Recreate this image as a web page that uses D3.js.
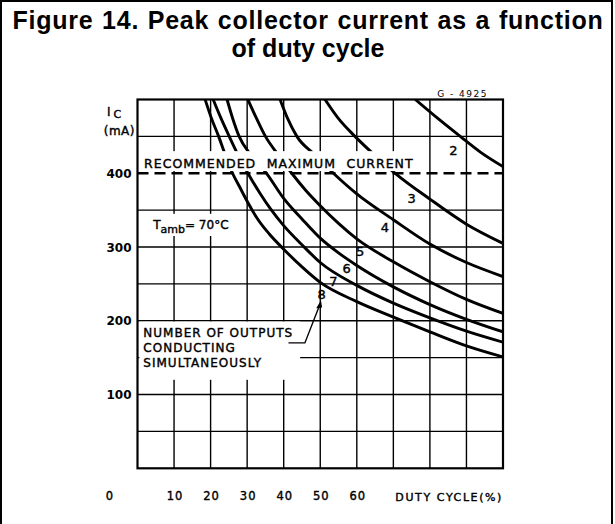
<!DOCTYPE html>
<html>
<head>
<meta charset="utf-8">
<script src="https://cdn.jsdelivr.net/npm/d3@7"></script>
<style>
  body { margin: 0; background: #fff; }
  svg text { fill: #000; }
  svg text.plain { stroke: #000; stroke-width: 0.4px; }
</style>
</head>
<body>
<svg id="chart" width="615" height="524"></svg>
<script>
// duty cycle (%) vs peak collector current (mA), one array per number of outputs
const curve2 = [[76, 500], [82, 475], [88.3, 450], [94, 428], [100, 409]];
const curve3 = [[51.3, 500], [55, 474], [59.5, 450], [65, 424], [70.5, 400], [80, 365], [90, 331], [100, 305]];
const curve4 = [[39, 500], [41, 475], [43.6, 450], [48.5, 425], [53.6, 400], [60, 372], [70, 337], [80, 304], [90, 279], [100, 260]];
const curve5 = [[30.2, 500], [32.5, 475], [35, 450], [38.5, 425], [42.2, 400], [46, 377], [50, 356], [55, 332], [60, 311], [70, 280], [80, 253], [90, 229], [100, 210]];
const curve6 = [[24.5, 500], [26, 475], [27.8, 450], [31, 425], [35.3, 400], [40, 366], [45, 338], [50, 312], [55, 292], [60, 275], [70, 246], [80, 222], [90, 202], [100, 185]];
const curve7 = [[20.7, 500], [22.8, 475], [25.1, 450], [27.5, 425], [30.2, 400], [33.5, 373], [36.5, 351], [40, 329], [45, 303], [50, 279], [60, 248], [70, 224], [80, 204], [90, 186], [100, 171]];
const curve8 = [[18.5, 500], [20.2, 475], [22.2, 450], [24, 425], [26, 400], [28, 381], [30, 362], [33, 337], [36, 318], [40, 297], [45, 273], [50, 252], [60, 226], [70, 205], [80, 185], [90, 166], [100, 151]];
const curves = [curve2, curve3, curve4, curve5, curve6, curve7, curve8];
const curveNames = ["2", "3", "4", "5", "6", "7", "8"];
// label positions (duty %, mA)
const curveLabelPos = [[86.4, 432], [75, 366], [67.7, 327], [60.9, 294], [57.2, 272], [53.6, 254], [50.4, 236]];

const xTicks = [10, 20, 30, 40, 50, 60];
const yTicks = [100, 200, 300, 400];
const maxCurrent = 400;

const svg = d3.select("#chart");

// outer frame (bottom edge is cut off in the original)
svg.append("path")
  .attr("d", "M1,530 V1 H612 V530")
  .attr("fill", "none")
  .attr("stroke", "#000")
  .attr("stroke-width", 2);

// title
const titleFont = "'Liberation Sans', Arial, sans-serif";
svg.append("text")
  .attr("x", 308).attr("y", 29)
  .attr("text-anchor", "middle")
  .style("font-family", titleFont).style("font-weight", "bold").style("font-size", "25px")
  .style("letter-spacing", "0.75px").style("word-spacing", "1px")
  .text("Figure 14. Peak collector current as a function");
svg.append("text")
  .attr("x", 308).attr("y", 57)
  .attr("text-anchor", "middle")
  .style("font-family", titleFont).style("font-weight", "bold").style("font-size", "25px")
  .text("of duty cycle");

const x = d3.scaleLinear().domain([0, 100]).range([137.5, 503]);
const y = d3.scaleLinear().domain([0, 500]).range([468.3, 99.5]);

const font = "'DejaVu Sans', sans-serif";

// grid
const grid = svg.append("g").attr("stroke", "#000").attr("stroke-width", 1.4);
grid.selectAll("line.v")
  .data(d3.range(10, 100, 10))
  .join("line")
  .attr("class", "v")
  .attr("x1", d => x(d)).attr("x2", d => x(d))
  .attr("y1", y(500)).attr("y2", y(0));
grid.selectAll("line.h")
  .data(d3.range(50, 500, 50).filter(d => d !== maxCurrent))
  .join("line")
  .attr("class", "h")
  .attr("y1", d => y(d)).attr("y2", d => y(d))
  .attr("x1", x(0)).attr("x2", x(100));

// curves
svg.append("clipPath").attr("id", "plot-clip")
  .append("rect")
  .attr("x", x(0)).attr("y", y(500))
  .attr("width", x(100) - x(0)).attr("height", y(0) - y(500));

const line = d3.line()
  .x(d => x(d[0]))
  .y(d => y(d[1]))
  .curve(d3.curveMonotoneX);

svg.append("g")
  .attr("clip-path", "url(#plot-clip)")
  .selectAll("path")
  .data(curves)
  .join("path")
  .attr("d", line)
  .attr("fill", "none")
  .attr("stroke", "#000")
  .attr("stroke-width", 2.9);

// white boxes behind the annotations (they blank out grid and curves)
const boxes = [
  [0.7, 430, 76.5, 403],   // recommended maximum current
  [2.8, 345, 25.8, 315],   // Tamb
  [0.5, 199, 44.5, 120]    // number of outputs
];
svg.selectAll("rect.box")
  .data(boxes)
  .join("rect")
  .attr("class", "box")
  .attr("x", d => x(d[0]))
  .attr("y", d => y(d[1]))
  .attr("width", d => x(d[2]) - x(d[0]))
  .attr("height", d => y(d[3]) - y(d[1]))
  .attr("fill", "#fff");

// plot frame
svg.append("rect")
  .attr("x", x(0)).attr("y", y(500))
  .attr("width", x(100) - x(0)).attr("height", y(0) - y(500))
  .attr("fill", "none")
  .attr("stroke", "#000")
  .attr("stroke-width", 2.2);

// recommended maximum line
svg.append("line")
  .attr("x1", x(0)).attr("x2", x(100))
  .attr("y1", y(maxCurrent)).attr("y2", y(maxCurrent))
  .attr("stroke", "#000")
  .attr("stroke-width", 2.6)
  .attr("stroke-dasharray", "11,6");

svg.append("text")
  .attr("class", "plain")
  .attr("x", x(1.8)).attr("y", y(maxCurrent) - 5)
  .style("font-family", font).style("font-size", "12.5px")
  .style("letter-spacing", "1px").style("word-spacing", "5.5px")
  .text("RECOMMENDED MAXIMUM CURRENT");

// curve labels
svg.selectAll("text.num")
  .data(curveLabelPos)
  .join("text")
  .attr("class", "num plain")
  .attr("x", d => x(d[0])).attr("y", d => y(d[1]) + 5)
  .attr("text-anchor", "middle")
  .style("font-family", font).style("font-size", "13px")
  .text((d, i) => curveNames[i]);

// Tamb
const tamb = svg.append("text")
  .attr("class", "plain")
  .attr("x", x(4.3)).attr("y", y(325))
  .style("font-family", font).style("font-size", "12px");
tamb.append("tspan").text("T");
tamb.append("tspan").attr("dy", 4).style("font-size", "11px").text("amb");
tamb.append("tspan").attr("dy", -4).text("= 70°C");

// outputs note
const note = svg.append("text")
  .attr("class", "plain")
  .style("font-family", font).style("font-size", "12px")
  .style("letter-spacing", "1px");
["NUMBER OF OUTPUTS", "CONDUCTING", "SIMULTANEOUSLY"].forEach((t, i) => {
  note.append("tspan").attr("x", x(1.6)).attr("y", y(200) + 16 + i * 15).text(t);
});

// leader to curve 8
const leader = [[41.3, 170], [45.8, 170], [49.9, 222]];
svg.append("path")
  .attr("d", d3.line().x(d => x(d[0])).y(d => y(d[1]))(leader))
  .attr("fill", "none").attr("stroke", "#000").attr("stroke-width", 1.4);
svg.append("path")
  .attr("d", `M${x(50.2)},${y(228)} L${x(48.9)},${y(217)} L${x(50.5)},${y(218)} Z`)
  .attr("fill", "#000");

// axis texts
svg.selectAll("text.ytick")
  .data(yTicks)
  .join("text")
  .attr("class", "ytick")
  .attr("x", x(0) - 6).attr("y", d => y(d) + 4.5)
  .attr("text-anchor", "end")
  .style("font-family", font).style("font-size", "12px").style("font-weight", "bold")
  .text(d => d);

svg.selectAll("text.xtick")
  .data(xTicks)
  .join("text")
  .attr("class", "xtick plain")
  .attr("x", d => x(d) + 1).attr("y", 500)
  .attr("text-anchor", "middle")
  .style("font-family", font).style("font-size", "11.5px")
  .style("letter-spacing", "1px")
  .text(d => d);

svg.append("text")
  .attr("class", "plain")
  .attr("x", x(0) - 28).attr("y", 500)
  .attr("text-anchor", "middle")
  .style("font-family", font).style("font-size", "11.5px")
  .text("0");

svg.append("text")
  .attr("class", "plain")
  .attr("x", x(100)).attr("y", 501)
  .attr("text-anchor", "end")
  .style("font-family", font).style("font-size", "11px")
  .style("letter-spacing", "1.6px")
  .text("DUTY CYCLE(%)");

const ic = svg.append("text")
  .attr("class", "plain")
  .attr("x", 107).attr("y", 116)
  .style("font-family", font).style("font-size", "12px");
ic.append("tspan").text("I");
ic.append("tspan").attr("dx", 3).attr("dy", 2).style("font-size", "11px").text("C");
svg.append("text")
  .attr("class", "plain")
  .attr("x", 135).attr("y", 135)
  .attr("text-anchor", "end")
  .style("font-family", font).style("font-size", "12px")
  .style("letter-spacing", "0.5px")
  .text("(mA)");

svg.append("text")
  .attr("x", 488).attr("y", 97)
  .attr("text-anchor", "end")
  .style("font-family", font).style("font-size", "9px")
  .style("letter-spacing", "1.5px")
  .text("G - 4925");
</script>
</body>
</html>
